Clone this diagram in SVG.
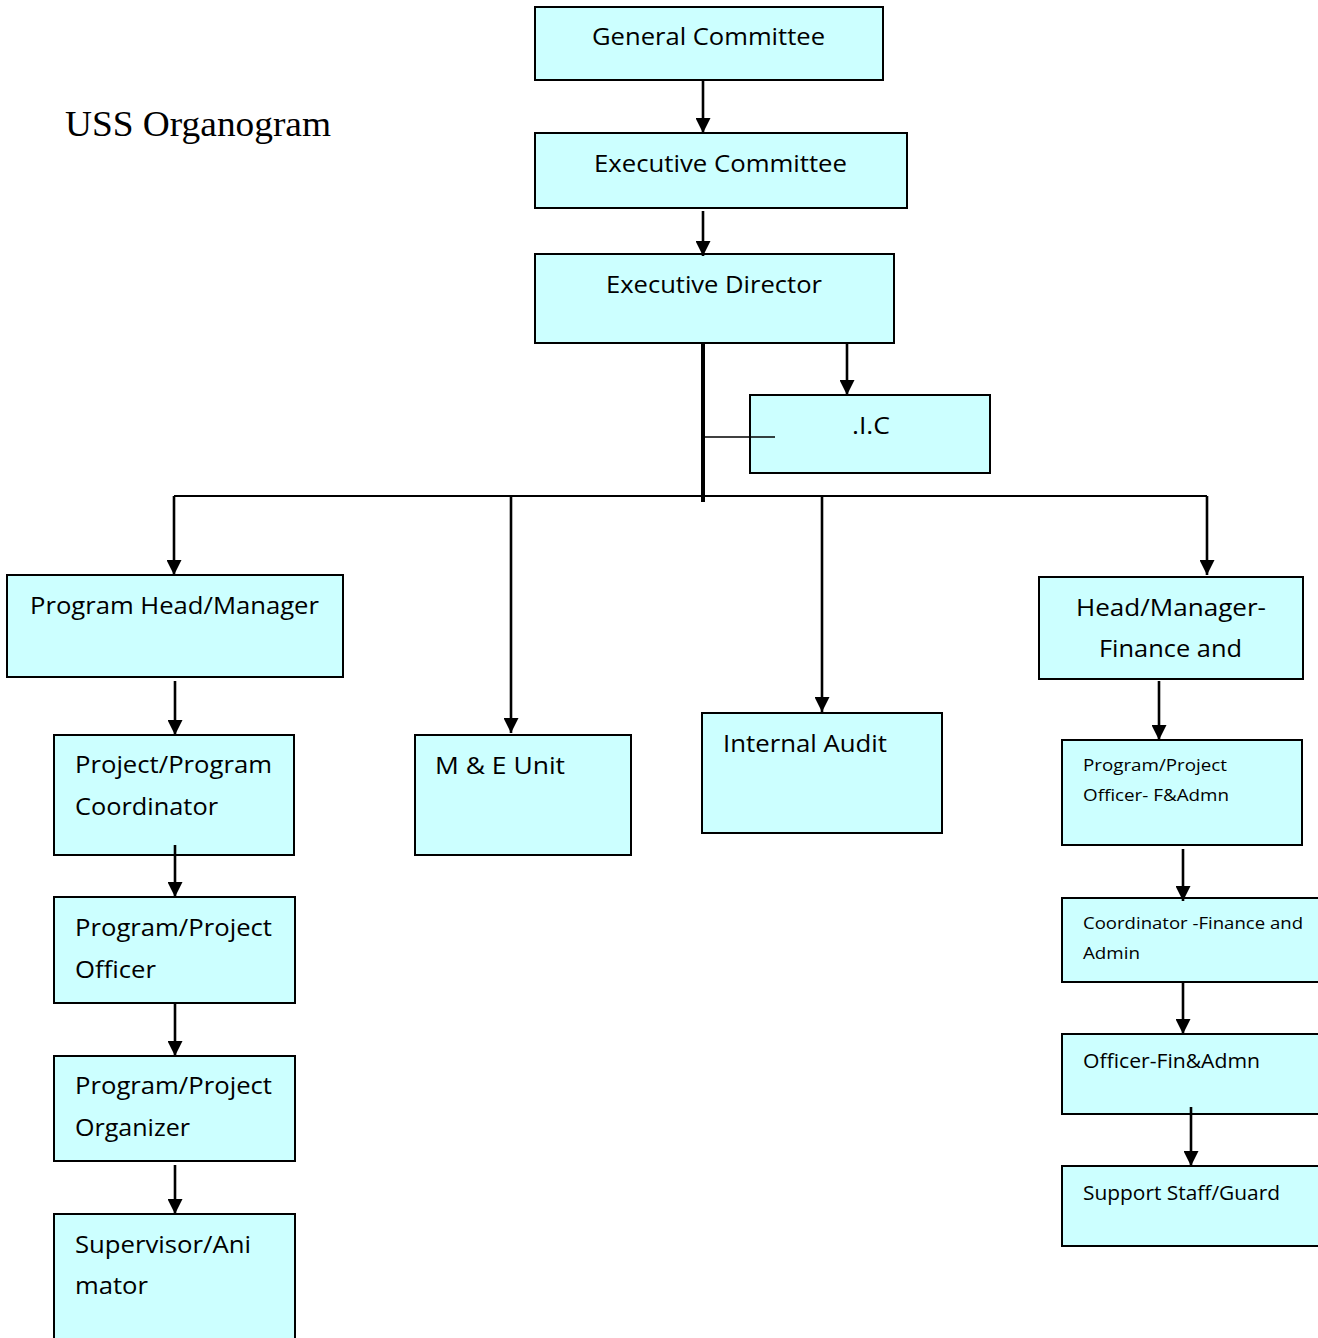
<svg xmlns="http://www.w3.org/2000/svg" width="1318" height="1338" viewBox="0 0 1318 1338">
<style>
.box{fill:#CCFFFF;stroke:#000;stroke-width:2}
.t{font-family:"Open Sans","Liberation Sans",sans-serif;font-size:24px;fill:#000}
.s{font-family:"Open Sans","Liberation Sans",sans-serif;font-size:17px;fill:#000}
.m{font-family:"Open Sans","Liberation Sans",sans-serif;font-size:20px;fill:#000}
.c{fill:none;stroke:#000;stroke-width:2.6}
</style>
<defs>
<marker id="ah" viewBox="0 0 15 15" refX="15" refY="7.5" markerWidth="15" markerHeight="15" markerUnits="userSpaceOnUse" orient="auto">
<path d="M0,0 L15,7.5 L0,15 Z" fill="#000"/>
</marker>
</defs>
<rect width="1318" height="1338" fill="#fff"/>
<text x="65" y="136" font-family="Liberation Serif,serif" font-size="36" textLength="266" lengthAdjust="spacingAndGlyphs">USS Organogram</text>

<g id="general-committee">
<rect class="box" x="535" y="7" width="348" height="73"/>
<text class="t" x="592" y="45" textLength="233" lengthAdjust="spacingAndGlyphs">General Committee</text>
</g>
<g id="executive-committee">
<rect class="box" x="535" y="133" width="372" height="75"/>
<text class="t" x="594" y="172" textLength="253" lengthAdjust="spacingAndGlyphs">Executive Committee</text>
</g>
<g id="executive-director">
<rect class="box" x="535" y="254" width="359" height="89"/>
<text class="t" x="606" y="293" textLength="216" lengthAdjust="spacingAndGlyphs">Executive Director</text>
</g>
<g id="ic">
<rect class="box" x="750" y="395" width="240" height="78"/>
<text class="t" x="852" y="434" textLength="38" lengthAdjust="spacingAndGlyphs">.I.C</text>
</g>
<g id="program-head">
<rect class="box" x="7" y="575" width="336" height="102"/>
<text class="t" x="30" y="614" textLength="289" lengthAdjust="spacingAndGlyphs">Program Head/Manager</text>
</g>
<g id="project-coordinator">
<rect class="box" x="54" y="735" width="240" height="120"/>
<text class="t" x="75" y="773" textLength="197" lengthAdjust="spacingAndGlyphs">Project/Program</text>
<text class="t" x="75" y="815" textLength="143" lengthAdjust="spacingAndGlyphs">Coordinator</text>
</g>
<g id="program-officer">
<rect class="box" x="54" y="897" width="241" height="106"/>
<text class="t" x="75" y="936" textLength="197" lengthAdjust="spacingAndGlyphs">Program/Project</text>
<text class="t" x="75" y="978" textLength="81" lengthAdjust="spacingAndGlyphs">Officer</text>
</g>
<g id="program-organizer">
<rect class="box" x="54" y="1056" width="241" height="105"/>
<text class="t" x="75" y="1094" textLength="197" lengthAdjust="spacingAndGlyphs">Program/Project</text>
<text class="t" x="75" y="1136" textLength="115" lengthAdjust="spacingAndGlyphs">Organizer</text>
</g>
<g id="supervisor">
<rect class="box" x="54" y="1214" width="241" height="140"/>
<text class="t" x="75" y="1253" textLength="176" lengthAdjust="spacingAndGlyphs">Supervisor/Ani</text>
<text class="t" x="75" y="1294" textLength="73" lengthAdjust="spacingAndGlyphs">mator</text>
</g>
<g id="me-unit">
<rect class="box" x="415" y="735" width="216" height="120"/>
<text class="t" x="435" y="774" textLength="130" lengthAdjust="spacingAndGlyphs">M &amp; E Unit</text>
</g>
<g id="internal-audit">
<rect class="box" x="702" y="713" width="240" height="120"/>
<text class="t" x="723" y="752" textLength="164" lengthAdjust="spacingAndGlyphs">Internal Audit</text>
</g>
<g id="head-finance">
<rect class="box" x="1039" y="577" width="264" height="102"/>
<text class="t" x="1076" y="616" textLength="190" lengthAdjust="spacingAndGlyphs">Head/Manager-</text>
<text class="t" x="1099" y="657" textLength="143" lengthAdjust="spacingAndGlyphs">Finance and</text>
</g>
<g id="officer-fadmn">
<rect class="box" x="1062" y="740" width="240" height="105"/>
<text class="s" x="1083" y="771" textLength="144" lengthAdjust="spacingAndGlyphs">Program/Project</text>
<text class="s" x="1083" y="801" textLength="146" lengthAdjust="spacingAndGlyphs">Officer- F&amp;Admn</text>
</g>
<g id="coordinator-finance">
<rect class="box" x="1062" y="898" width="270" height="84"/>
<text class="s" x="1083" y="929" textLength="220" lengthAdjust="spacingAndGlyphs">Coordinator -Finance and</text>
<text class="s" x="1083" y="959" textLength="57" lengthAdjust="spacingAndGlyphs">Admin</text>
</g>
<g id="officer-finadmn">
<rect class="box" x="1062" y="1034" width="270" height="80"/>
<text class="m" x="1083" y="1068" textLength="177" lengthAdjust="spacingAndGlyphs">Officer-Fin&amp;Admn</text>
</g>
<g id="support-staff">
<rect class="box" x="1062" y="1166" width="270" height="80"/>
<text class="m" x="1083" y="1200" textLength="197" lengthAdjust="spacingAndGlyphs">Support Staff/Guard</text>
</g>

<g id="connectors">
<line class="c" x1="703" y1="80" x2="703" y2="133" marker-end="url(#ah)"/>
<line class="c" x1="703" y1="211" x2="703" y2="256" marker-end="url(#ah)"/>
<line x1="703" y1="343" x2="703" y2="502" stroke="#000" stroke-width="4"/>
<line x1="703" y1="437" x2="775" y2="437" stroke="#000" stroke-width="1.5"/>
<line class="c" x1="847" y1="343" x2="847" y2="395" marker-end="url(#ah)"/>
<line x1="174" y1="496" x2="1207" y2="496" stroke="#000" stroke-width="2"/>
<line class="c" x1="174" y1="496" x2="174" y2="575" marker-end="url(#ah)"/>
<line class="c" x1="511" y1="496" x2="511" y2="733" marker-end="url(#ah)"/>
<line class="c" x1="822" y1="496" x2="822" y2="712" marker-end="url(#ah)"/>
<line class="c" x1="1207" y1="496" x2="1207" y2="575" marker-end="url(#ah)"/>
<line class="c" x1="175" y1="681" x2="175" y2="735" marker-end="url(#ah)"/>
<line class="c" x1="175" y1="845" x2="175" y2="897" marker-end="url(#ah)"/>
<line class="c" x1="175" y1="1003" x2="175" y2="1056" marker-end="url(#ah)"/>
<line class="c" x1="175" y1="1165" x2="175" y2="1214" marker-end="url(#ah)"/>
<line class="c" x1="1159" y1="681" x2="1159" y2="740" marker-end="url(#ah)"/>
<line class="c" x1="1183" y1="849" x2="1183" y2="901" marker-end="url(#ah)"/>
<line class="c" x1="1183" y1="982" x2="1183" y2="1034" marker-end="url(#ah)"/>
<line class="c" x1="1191" y1="1107" x2="1191" y2="1166" marker-end="url(#ah)"/>
</g>
</svg>
